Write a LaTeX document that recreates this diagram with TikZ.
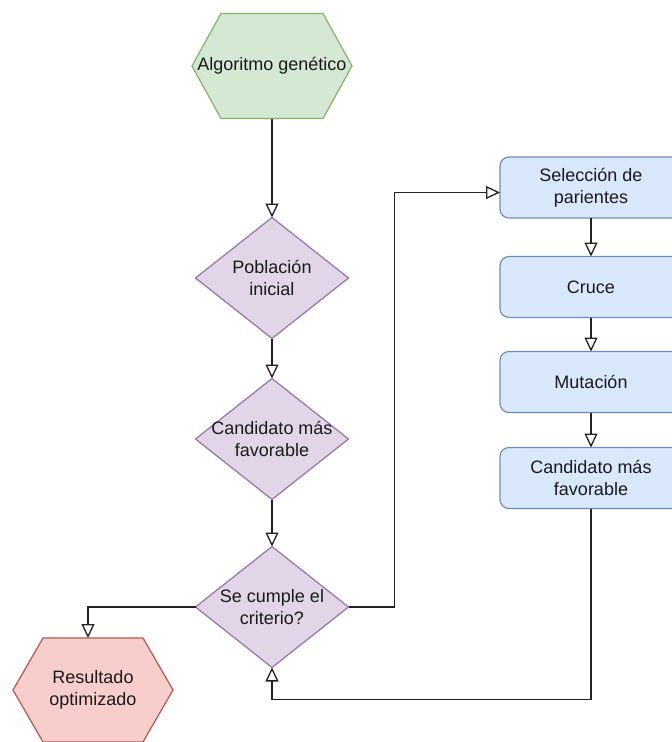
\documentclass[tikz,border=0pt]{standalone}
\usepackage{fontspec}
\setmainfont{Liberation Sans}
\usetikzlibrary{arrows.meta,calc}
\pgfdeclarelayer{background}
\pgfsetlayers{background,main}
\definecolor{greenfill}{HTML}{D5E8D4}
\definecolor{greenstroke}{HTML}{82B366}
\definecolor{purplefill}{HTML}{E1D5E7}
\definecolor{purplestroke}{HTML}{9673A6}
\definecolor{redfill}{HTML}{F8CECC}
\definecolor{redstroke}{HTML}{B85450}
\definecolor{bluefill}{HTML}{DAE8FC}
\definecolor{bluestroke}{HTML}{6C8EBF}
\definecolor{txtc}{HTML}{1A1A1A}
\definecolor{linec}{HTML}{222222}
\tikzset{
  base/.style={font=\fontsize{18}{22}\selectfont, text=txtc, align=center, inner sep=0pt, outer sep=0pt},
  hexnode/.style={base, minimum width=160pt, minimum height=105pt},
  dianode/.style={base, minimum width=153pt, minimum height=121pt},
  procbox/.style={base, draw=bluestroke, fill=bluefill, rounded corners=9pt, minimum width=182pt, minimum height=61pt, line width=1.2pt},
  conn/.style={draw=linec, line width=1.3pt, -{Triangle[open, length=14pt, width=13pt]}},
  shapeline/.style={line width=1.2pt, line join=round},
}
\begin{document}
\begin{tikzpicture}[x=1pt,y=-1pt]
\useasboundingbox (0,0) rectangle (672,742);
\clip (0,0) rectangle (672,742);

% nodes (text)
\node[hexnode] (alg) at (272,66) {Algoritmo genético};
\node[dianode] (d1) at (272,278) {Población\\inicial};
\node[dianode] (d2) at (272,439) {Candidato más\\favorable};
\node[dianode] (d3) at (272,607) {Se cumple el\\criterio?};
\node[hexnode, minimum height=104pt] (res) at (93,690) {Resultado\\optimizado};

\node[procbox] (sel) at (591,187.5) {Selección de\\parientes};
\node[procbox] (cru) at (591,287) {Cruce};
\node[procbox] (mut) at (591,382) {Mutación};
\node[procbox] (can) at (591,478) {Candidato más\\favorable};

% shapes behind text
\begin{pgfonlayer}{background}
  \fill[white] (0,0) rectangle (672,742);
  \filldraw[shapeline, fill=greenfill, draw=greenstroke]
    ($(alg.north west)+(29,0)$) -- ($(alg.north east)+(-29,0)$) -- (alg.east)
    -- ($(alg.south east)+(-29,0)$) -- ($(alg.south west)+(29,0)$) -- (alg.west) -- cycle;
  \filldraw[shapeline, fill=redfill, draw=redstroke]
    ($(res.north west)+(30,0)$) -- ($(res.north east)+(-30,0)$) -- (res.east)
    -- ($(res.south east)+(-30,0)$) -- ($(res.south west)+(30,0)$) -- (res.west) -- cycle;
  \foreach \d in {d1,d2,d3}{
    \filldraw[shapeline, fill=purplefill, draw=purplestroke]
      (\d.north) -- (\d.east) -- (\d.south) -- (\d.west) -- cycle;
  }
\end{pgfonlayer}

% connectors
\draw[conn] (alg.south) -- (d1.north);
\draw[conn] (d1.south) -- (d2.north);
\draw[conn] (d2.south) -- (d3.north);
\draw[conn] (d3.west) -| ([xshift=-5pt]res.north);
\draw[conn] (d3.east) -- ++(46,0) |- ([yshift=-5pt]sel.west);
\draw[conn] (sel.south) -- (cru.north);
\draw[conn] (cru.south) -- (mut.north);
\draw[conn] (mut.south) -- (can.north);
\draw[conn] (can.south) -- ++(0,191) -| (d3.south);
\end{tikzpicture}
\end{document}
